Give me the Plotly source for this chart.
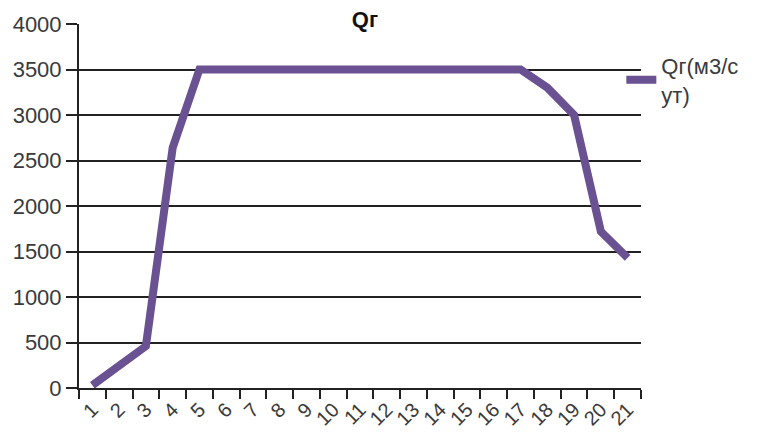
import plotly.graph_objects as go

# Hourly gas flow, categories 1..21
categories = [str(i) for i in range(1, 22)]
qg_values = [30, 240, 460, 2640, 3500, 3500, 3500, 3500, 3500, 3500, 3500,
             3500, 3500, 3500, 3500, 3500, 3500, 3300, 3000, 1720, 1430]
y_ticks = [0, 500, 1000, 1500, 2000, 2500, 3000, 3500, 4000]

series_name = "Qг(м3/с<br>ут)"
line_color = "#6a5192"
font_family = "Liberation Sans, Arial, sans-serif"

fig = go.Figure()
fig.add_trace(go.Scatter(
    x=categories,
    y=qg_values,
    mode="lines",
    name=series_name,
    line=dict(color=line_color, width=8),
))

fig.update_layout(
    width=758,
    height=442,
    margin=dict(l=79, r=117, t=21, b=52),
    paper_bgcolor="white",
    plot_bgcolor="white",
    font=dict(family=font_family, size=20, color="#3a3a3a"),
    title=dict(
        text="<b>Qг</b>",
        x=(365 / 758),
        xanchor="center",
        y=1 - 19 / 442,
        yanchor="middle",
        font=dict(family=font_family, size=22, color="#111111"),
    ),
    showlegend=True,
    legend=dict(
        x=0.965,
        xanchor="left",
        y=0.846,
        yanchor="middle",
        bgcolor="rgba(0,0,0,0)",
        font=dict(family=font_family, size=22, color="#3a3a3a"),
        itemwidth=30,
    ),
)

fig.update_xaxes(
    type="category",
    range=[-0.5, 20.5],
    tickson="boundaries",
    ticks="outside",
    ticklen=9,
    tickwidth=2,
    tickcolor="#222222",
    tickangle=-45,
    showline=True,
    linecolor="#222222",
    linewidth=2,
    showgrid=False,
    tickfont=dict(size=20),
)

fig.update_yaxes(
    range=[0, 4000],
    tickvals=y_ticks,
    ticks="outside",
    ticklen=11,
    tickwidth=2,
    tickcolor="#222222",
    showline=True,
    linecolor="#222222",
    linewidth=2,
    showgrid=True,
    gridcolor="#222222",
    gridwidth=1.5,
    zeroline=False,
    tickfont=dict(size=22),
)

fig.write_html("out.html")
